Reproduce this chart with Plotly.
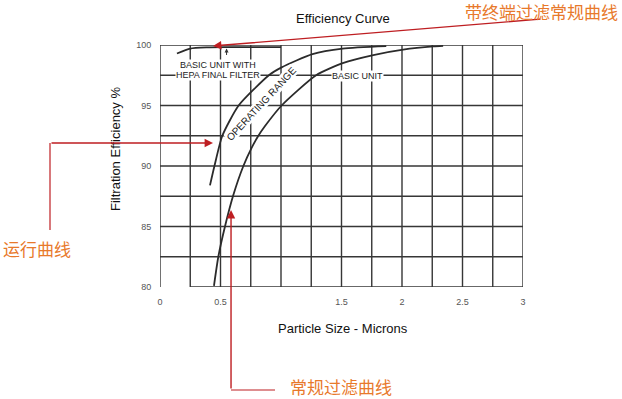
import plotly.graph_objects as go

# ---------------- data ----------------
title_text = "Efficiency Curve"
x_title = "Particle Size - Microns"
y_title = "Filtration Efficiency %"

x_tick_vals = [0, 0.5, 1.5, 2, 2.5, 3]
x_tick_text = ["0", "0.5", "1.5", "2", "2.5", "3"]
y_tick_vals = [80, 85, 90, 95, 100]
y_tick_text = ["80", "85", "90", "95", "100"]

x_grid = [0, 0.25, 0.5, 0.75, 1.0, 1.25, 1.5, 1.75, 2.0, 2.25, 2.5, 2.75, 3.0]
y_grid = [80, 82.5, 85, 87.5, 90, 92.5, 95, 97.5, 100]

# upper boundary of operating range (运行曲线)
x_upper = [0.413, 0.45, 0.515, 0.65, 0.90, 1.005, 1.26, 1.51, 1.87]
y_upper = [88.4, 90.0, 92.5, 95.0, 97.5, 98.15, 99.25, 99.7, 99.9]

# basic unit curve (常规过滤曲线)
x_basic = [0.446, 0.482, 0.537, 0.606, 0.689, 0.757, 0.813, 0.868, 1.005,
           1.29, 1.51, 1.763, 2.01, 2.26, 2.34]
y_basic = [80.1, 82.5, 85.0, 87.6, 90.0, 91.5, 92.5, 93.3, 95.0,
           97.5, 98.5, 99.17, 99.62, 99.88, 99.92]

# basic unit with HEPA final filter (带终端过滤常规曲线)
x_hepa = [0.14, 0.25, 0.39, 0.55, 0.75, 1.0]
y_hepa = [99.3, 99.7, 99.8, 99.82, 99.82, 99.82]

label_hepa_1 = "BASIC UNIT WITH"
label_hepa_2 = "HEPA FINAL FILTER"
label_basic = "BASIC UNIT"
label_range = "OPERATING RANGE"

cn_hepa = "带终端过滤常规曲线"
cn_oper = "运行曲线"
cn_basic = "常规过滤曲线"

# ---------------- layout constants ----------------
W, H = 622, 399
L, R, T, B = 160, 523, 45, 287   # plot area (pixels)
EN_FONT = "Liberation Sans, Arial, sans-serif"
CN_FONT = "Noto Sans CJK SC"
LINE_C = "#2b2b2b"
GRID_C = "#363636"
RED = "#BE1E22"
ORANGE = "#E8792B"


def px(xp):
    """page x-pixel -> paper fraction"""
    return (xp - L) / (R - L)


def py(yp):
    """page y-pixel -> paper fraction"""
    return (B - yp) / (B - T)


fig = go.Figure()
for xs, ys in [(x_upper, y_upper), (x_basic, y_basic), (x_hepa, y_hepa)]:
    fig.add_trace(go.Scatter(x=xs, y=ys, mode="lines",
                             line=dict(color=LINE_C, width=1.8, shape="spline", smoothing=0.6),
                             hoverinfo="skip", showlegend=False))

shapes = []
for gx in x_grid:
    shapes.append(dict(type="line", xref="x", yref="y", x0=gx, x1=gx, y0=80, y1=100,
                       line=dict(color=GRID_C, width=1.4), layer="below"))
for gy in y_grid:
    x_start = x_grid[1] if gy == y_grid[0] else x_grid[0]
    shapes.append(dict(type="line", xref="x", yref="y", x0=x_start, x1=x_grid[-1], y0=gy, y1=gy,
                       line=dict(color=GRID_C, width=1.4), layer="below"))
# red leader lines (outside plot area)
shapes.append(dict(type="line", xref="paper", yref="paper", x0=px(50), x1=px(50), y0=py(143), y1=py(230),
                   line=dict(color=RED, width=1.2)))
shapes.append(dict(type="line", xref="paper", yref="paper", x0=px(231), x1=px(275), y0=py(390), y1=py(390),
                   line=dict(color=RED, width=1.2)))

small = dict(family=EN_FONT, size=9, color="#222222")
annotations = [
    dict(text=title_text, xref="paper", yref="paper", x=px(343), y=py(18), showarrow=False,
         font=dict(family=EN_FONT, size=13, color="#111111"), xanchor="center", yanchor="middle"),
    dict(text=x_title, xref="paper", yref="paper", x=px(343), y=py(328), showarrow=False,
         font=dict(family=EN_FONT, size=13, color="#111111"), xanchor="center", yanchor="middle"),
    dict(text=y_title, xref="paper", yref="paper", x=px(115), y=py(149), showarrow=False, textangle=-90,
         font=dict(family=EN_FONT, size=13, color="#111111"), xanchor="center", yanchor="middle"),
    dict(text=label_hepa_1, x=0.48, y=98.35, showarrow=False, font=small, bgcolor="white", borderpad=0),
    dict(text=label_hepa_2, x=0.48, y=97.5, showarrow=False, font=small, bgcolor="white", borderpad=0),
    dict(text=label_basic, x=1.63, y=97.45, showarrow=False, font=small, bgcolor="white", borderpad=0),
    dict(text=label_range, x=0.84, y=95.15, showarrow=False,
         font=dict(family=EN_FONT, size=10, color="#222222"), bgcolor="white", borderpad=0,
         textangle=-47),
    # small black arrow to HEPA line
    dict(text="", x=0.55, y=99.72, ax=0.55, ay=99.05, axref="x", ayref="y", showarrow=True,
         arrowhead=2, arrowsize=0.8, arrowwidth=1, arrowcolor="#333333"),
    # red arrows
    dict(text="", x=0.438, y=99.92, ax=329, ay=-27, showarrow=True,
         arrowhead=2, arrowsize=1.2, arrowwidth=1.4, arrowcolor=RED),
    dict(text="", x=0.438, y=91.9, ax=-163, ay=0, showarrow=True,
         arrowhead=2, arrowsize=1.2, arrowwidth=1.4, arrowcolor=RED),
    dict(text="", x=0.587, y=86.36, ax=0, ay=180, showarrow=True,
         arrowhead=2, arrowsize=1.2, arrowwidth=1.4, arrowcolor=RED),
    # Chinese labels
    dict(text=cn_hepa, xref="paper", yref="paper", x=px(541.5), y=py(12), showarrow=False,
         font=dict(family=CN_FONT, size=17, color=ORANGE), xanchor="center", yanchor="middle"),
    dict(text=cn_oper, xref="paper", yref="paper", x=px(36.5), y=py(248), showarrow=False,
         font=dict(family=CN_FONT, size=17, color=ORANGE), xanchor="center", yanchor="middle"),
    dict(text=cn_basic, xref="paper", yref="paper", x=px(340.5), y=py(386.5), showarrow=False,
         font=dict(family=CN_FONT, size=17, color=ORANGE), xanchor="center", yanchor="middle"),
]

fig.update_layout(
    width=W, height=H,
    margin=dict(l=L, r=W - R, t=T, b=H - B, pad=0),
    paper_bgcolor="white", plot_bgcolor="white",
    shapes=shapes, annotations=annotations,
    xaxis=dict(range=[0, 3], showgrid=False, zeroline=False, showline=False,
               tickvals=x_tick_vals, ticktext=x_tick_text, ticks="outside", ticklen=6,
               tickcolor="rgba(0,0,0,0)", tickfont=dict(family=EN_FONT, size=9, color="#555555"),
               fixedrange=True),
    yaxis=dict(range=[80, 100], showgrid=False, zeroline=False, showline=False,
               tickvals=y_tick_vals, ticktext=y_tick_text, ticks="outside", ticklen=6,
               tickcolor="rgba(0,0,0,0)", tickfont=dict(family=EN_FONT, size=9, color="#555555"),
               fixedrange=True),
)

fig.write_html("out.html", config={"displayModeBar": False},
               post_script="document.body.style.margin='0';document.body.style.overflow='hidden';")
